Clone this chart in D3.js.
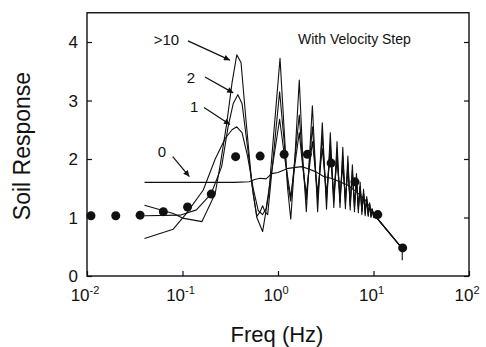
<!DOCTYPE html>
<html>
<head>
<meta charset="utf-8">
<script src="https://cdn.jsdelivr.net/npm/d3@7"></script>
<style>
  html, body { margin: 0; padding: 0; background: #fff; }
  svg text { font-family: "Liberation Sans", Arial, sans-serif; fill: #111; }
</style>
</head>
<body>
<svg id="chart" width="486" height="347"></svg>
<script>
// measured points (dots)
var dotFreq = [0.011, 0.02, 0.036, 0.063, 0.113, 0.2, 0.36, 0.65, 1.16, 2.03, 3.6, 6.4, 11.1, 20.2];
var dotResp = [1.03, 1.03, 1.04, 1.10, 1.18, 1.40, 2.04, 2.05, 2.08, 2.08, 1.93, 1.61, 1.05, 0.48];

// computed curves, [freq, response]
var curve0 = [[0.04,1.6],[0.1,1.6],[0.2,1.6],[0.35,1.6],[0.5,1.61],[0.57,1.65],[0.65,1.67],[0.75,1.66],
  [0.86,1.75],[1.0,1.77],[1.28,1.84],[1.77,1.87],[2.1,1.83],[2.5,1.78],[3.0,1.7],[3.6,1.67],[4.3,1.62],
  [5.4,1.55],[6.5,1.45],[8.2,1.3],[10,1.08],[11,0.98],[20,0.47],[20,0.27]];

var curve1 = [[0.04,0.64],[0.08,0.8],[0.11,1.07],[0.165,1.47],[0.22,2.0],[0.28,2.35],[0.33,2.5],[0.37,2.55],
  [0.42,2.45],[0.48,2.05],[0.55,1.5],[0.62,1.12],[0.69,1.05],[0.75,1.15],[0.88,1.9],[1.04,2.68],[1.18,2.0],
  [1.36,1.35],[1.5,1.9],[1.67,2.45],[1.82,1.85],[1.98,1.4],[2.29,2.3],[2.6,1.42],[2.91,2.18],[3.22,1.42],
  [3.53,2.08],[3.84,1.4],[4.15,1.98],[4.46,1.37],[4.77,1.88],[5.08,1.34],[5.39,1.8],[5.7,1.3],[6.01,1.7],
  [6.32,1.25],[6.63,1.6],[6.94,1.2],[7.25,1.5],[7.56,1.16],[7.87,1.4],[8.18,1.12],[8.49,1.31],[8.8,1.08],
  [9.11,1.22],[9.42,1.05],[9.73,1.12],[10.04,1.02],[11,0.98],[20,0.47]];

var curve2 = [[0.04,1.03],[0.094,1.04],[0.14,1.13],[0.2,1.41],[0.257,1.87],[0.3,2.55],[0.34,2.95],[0.38,3.1],
  [0.42,2.95],[0.48,2.2],[0.55,1.4],[0.6,1.02],[0.65,1.1],[0.69,1.2],[0.73,1.1],[0.78,1.05],[0.9,2.1],
  [1.04,3.15],[1.16,2.3],[1.26,1.6],[1.36,1.28],[1.5,2.0],[1.67,2.75],[1.82,1.9],[1.98,1.3],[2.29,2.55],
  [2.6,1.3],[2.91,2.4],[3.22,1.3],[3.53,2.25],[3.84,1.28],[4.15,2.15],[4.46,1.26],[4.77,2.05],[5.08,1.24],
  [5.39,1.93],[5.7,1.2],[6.01,1.8],[6.32,1.17],[6.63,1.67],[6.94,1.14],[7.25,1.53],[7.56,1.1],[7.87,1.42],
  [8.18,1.07],[8.49,1.32],[8.8,1.04],[9.11,1.22],[9.42,1.02],[9.73,1.13],[10.04,1.0],[11,0.98],[20,0.47]];

var curve10 = [[0.04,1.21],[0.08,1.07],[0.10,0.99],[0.16,0.93],[0.22,1.41],[0.25,1.93],[0.29,2.6],[0.33,3.3],
  [0.37,3.78],[0.41,3.65],[0.46,2.7],[0.53,1.6],[0.6,1.0],[0.69,0.76],[0.8,1.4],[0.92,2.6],[1.05,3.72],
  [1.16,2.5],[1.26,1.5],[1.36,0.97],[1.5,2.0],[1.67,3.35],[1.82,2.0],[1.98,1.1],[2.29,2.91],[2.6,1.1],
  [2.91,2.62],[3.22,1.14],[3.53,2.45],[3.84,1.17],[4.15,2.3],[4.46,1.17],[4.77,2.2],[5.08,1.15],[5.39,2.05],
  [5.7,1.13],[6.01,1.9],[6.32,1.1],[6.63,1.75],[6.94,1.08],[7.25,1.6],[7.56,1.05],[7.87,1.48],[8.18,1.03],
  [8.49,1.36],[8.8,1.02],[9.11,1.25],[9.42,1.0],[9.73,1.15],[10.04,1.0],[10.35,1.06],[11,0.98],[20,0.47]];

var xTicks = [0.01, 0.1, 1, 10, 100];
var xExps = ["-2", "-1", "0", "1", "2"];
var yTicks = [0, 1, 2, 3, 4];

// labels + arrows: text, label pos, arrow start, arrow tip (data units)
var notes = [
  {t: ">10", at: [0.050, 3.95], from: [0.114, 4.02], to: [0.314, 3.69]},
  {t: "2",   at: [0.111, 3.30], from: [0.172, 3.40], to: [0.34, 3.13]},
  {t: "1",   at: [0.120, 2.80], from: [0.168, 2.88], to: [0.314, 2.59]},
  {t: "0",   at: [0.055, 2.03], from: [0.079, 2.04], to: [0.118, 1.70]}
];

var svg = d3.select("#chart"),
  mLeft = 87, mRight = 469, mTop = 12.75, mBottom = 276;

var x = d3.scaleLog().domain([0.01, 100]).range([mLeft, mRight]);
var y = d3.scaleLinear().domain([0, 4.5]).range([mBottom, mTop]);

svg.append("defs").append("marker")
  .attr("id", "head")
  .attr("viewBox", "0 0 10 10")
  .attr("refX", 10).attr("refY", 5)
  .attr("markerWidth", 9).attr("markerHeight", 6)
  .attr("markerUnits", "userSpaceOnUse")
  .attr("orient", "auto")
  .append("path").attr("d", "M0,0L10,5L0,10z").attr("fill", "#111");

// axes with inward ticks
svg.append("g").attr("transform", "translate(0," + mBottom + ")")
  .call(d3.axisBottom(x).tickValues(xTicks).tickSize(-5).tickFormat(""));
svg.append("g").attr("transform", "translate(" + mLeft + ",0)")
  .call(d3.axisLeft(y).tickValues(yTicks).tickSize(-5).tickFormat(""));
svg.append("g").attr("transform", "translate(" + mRight + ",0)")
  .call(d3.axisRight(y).tickValues(yTicks).tickSize(-5).tickFormat(""));
svg.selectAll(".domain").remove();
svg.selectAll(".tick line").attr("stroke", "#111").attr("stroke-width", 1.2);

svg.append("rect")
  .attr("x", mLeft).attr("y", mTop)
  .attr("width", mRight - mLeft).attr("height", mBottom - mTop)
  .attr("fill", "none").attr("stroke", "#111").attr("stroke-width", 1.4);

// tick labels
svg.selectAll(".ylab").data(yTicks).enter().append("text")
  .attr("x", mLeft - 9).attr("y", function (d) { return y(d) + 6; })
  .attr("text-anchor", "end").attr("font-size", 17)
  .text(function (d) { return d; });

var xl = svg.selectAll(".xlab").data(xTicks).enter().append("text")
  .attr("x", function (d) { return x(d) - 2; }).attr("y", 301)
  .attr("text-anchor", "middle").attr("font-size", 17);
xl.append("tspan").text("10");
xl.append("tspan").attr("dy", -7).attr("font-size", 11)
  .text(function (d, i) { return xExps[i]; });

// titles
svg.append("text")
  .attr("transform", "translate(30,146) rotate(-90)")
  .attr("text-anchor", "middle").attr("font-size", 23)
  .text("Soil Response");
svg.append("text")
  .attr("x", 277).attr("y", 342)
  .attr("text-anchor", "middle").attr("font-size", 22)
  .text("Freq (Hz)");
svg.append("text")
  .attr("x", x(1.62)).attr("y", y(3.97))
  .attr("font-size", 14)
  .text("With Velocity Step");

// curves
var line = d3.line()
  .x(function (d) { return x(d[0]); })
  .y(function (d) { return y(d[1]); });

[curve0, curve1, curve2, curve10].forEach(function (c) {
  svg.append("path")
    .attr("d", line(c))
    .attr("fill", "none")
    .attr("stroke", "#111")
    .attr("stroke-width", 1.1)
    .attr("stroke-linejoin", "round");
});

// dots
svg.selectAll(".dot").data(dotFreq).enter().append("circle")
  .attr("cx", function (d) { return x(d); })
  .attr("cy", function (d, i) { return y(dotResp[i]); })
  .attr("r", 4.5)
  .attr("fill", "#111");

// annotations
notes.forEach(function (n) {
  svg.append("text")
    .attr("x", x(n.at[0])).attr("y", y(n.at[1]))
    .attr("font-size", 15)
    .text(n.t);
  svg.append("line")
    .attr("x1", x(n.from[0])).attr("y1", y(n.from[1]))
    .attr("x2", x(n.to[0])).attr("y2", y(n.to[1]))
    .attr("stroke", "#111").attr("stroke-width", 1.2)
    .attr("marker-end", "url(#head)");
});
</script>
</body>
</html>
